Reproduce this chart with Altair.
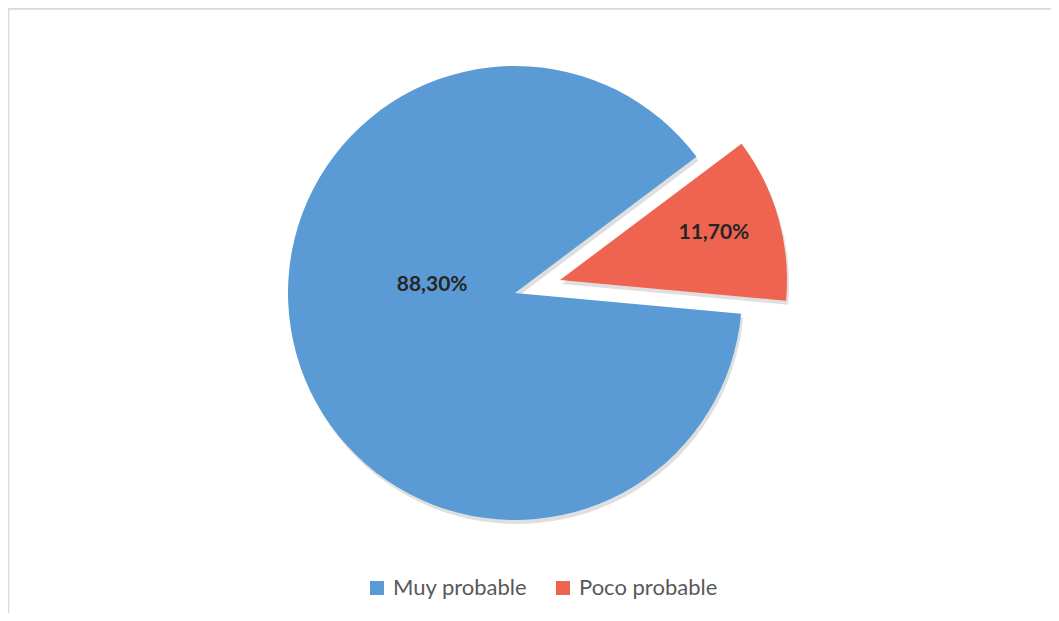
import math
import altair as alt
import pandas as pd

categories = ["Muy probable", "Poco probable"]
values = [88.3, 11.7]
labels = ["88,30%", "11,70%"]
colors = ["#5B9BD5", "#EF6351"]

df = pd.DataFrame({"category": categories, "value": values, "label": labels})

start = math.radians(53.1)
theta_scale = alt.Scale(domain=[0, 100], range=[start, start + 2 * math.pi])
color_scale = alt.Scale(domain=categories, range=colors)

W, H = 1043, 605
R = 227
blue_c = (507, 285)
red_c = (552, 272)

base = (
    alt.Chart(df)
    .transform_window(
        cum="sum(value)", sort=[alt.SortField("category", order="descending")]
    )
    .transform_calculate(s="datum.cum - datum.value", mid="datum.cum - datum.value/2")
)


def slice_layer(cat, c, legend=None, shadow=False):
    dx, dy = (2, 4) if shadow else (0, 0)
    enc = dict(
        theta=alt.Theta("s:Q", scale=theta_scale),
        theta2="cum:Q",
        x=alt.value(c[0] + dx),
        y=alt.value(c[1] + dy),
    )
    if not shadow:
        enc["color"] = alt.Color("category:N", scale=color_scale, legend=legend)
        mk = dict(outerRadius=R)
    else:
        mk = dict(outerRadius=R, color="#7f7f7f", opacity=0.25)
    return (
        base.transform_filter(alt.datum.category == cat)
        .mark_arc(**mk)
        .encode(**enc)
    )


legend = alt.Legend(
    title=None,
    orient="none",
    legendX=358,
    legendY=569,
    direction="horizontal",
    symbolType="square",
    symbolSize=196,
    symbolStrokeWidth=0,
    symbolOpacity=1,
    labelFont="Lato",
    labelFontSize=22,
    labelColor="#595959",
    labelOffset=5,
    columnPadding=24,
    padding=0,
)

shadow_blue = slice_layer("Muy probable", blue_c, shadow=True)
shadow_red = slice_layer("Poco probable", red_c, shadow=True)
blue = slice_layer("Muy probable", blue_c, legend=legend)
red = slice_layer("Poco probable", red_c, legend=None)


def label_layer(cat, c, radius, ddx, ddy):
    return (
        base.transform_filter(alt.datum.category == cat)
        .mark_text(
            font="Lato",
            fontSize=21,
            fontWeight="bold",
            color="#262626",
            radius=radius,
            dx=ddx,
            dy=ddy,
            baseline="middle",
            align="center",
        )
        .encode(
            theta=alt.Theta("mid:Q", scale=theta_scale),
            x=alt.value(c[0]),
            y=alt.value(c[1]),
            text="label:N",
        )
    )


lab_blue = label_layer("Muy probable", blue_c, 83, -3, -31)
lab_red = label_layer("Poco probable", red_c, 161, -1, -3)

frame_top = (
    alt.Chart(pd.DataFrame({"a": [0]}))
    .mark_rule(color="#d9d9d9", strokeWidth=1.5)
    .encode(x=alt.value(0), x2=alt.value(W + 20), y=alt.value(1))
)
frame_left = (
    alt.Chart(pd.DataFrame({"a": [0]}))
    .mark_rule(color="#d9d9d9", strokeWidth=1.5)
    .encode(x=alt.value(0.5), y=alt.value(1), y2=alt.value(H + 20))
)

chart = (
    alt.layer(
        frame_top, frame_left, shadow_blue, shadow_red, blue, red, lab_blue, lab_red
    )
    .resolve_scale(theta="shared", color="shared")
    .properties(width=W, height=H, padding=0, autosize=alt.AutoSizeParams(type="none"))
    .configure_view(stroke=None)
    .configure(background="white")
)

chart.save("out.html", embed_options={"renderer": "svg", "actions": False})
